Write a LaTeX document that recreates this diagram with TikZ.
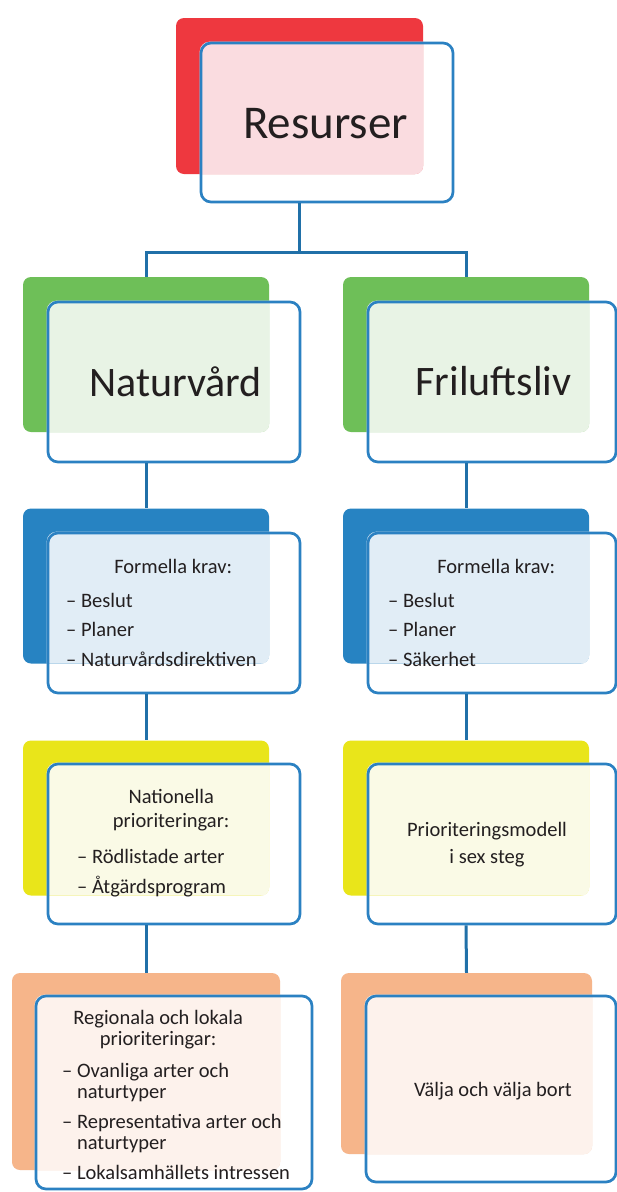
\documentclass[tikz,border=0pt]{standalone}
\usepackage{fontspec}
\setmainfont{Carlito}
\usetikzlibrary{calc}
\pgfdeclarelayer{back}
\pgfdeclarelayer{bg}
\pgfdeclarelayer{mid}
\pgfsetlayers{back,bg,mid,main}
\definecolor{outl}{HTML}{2B81C2}
\definecolor{conncol}{HTML}{2070A8}
\definecolor{txt}{HTML}{231F20}
\definecolor{cred}{HTML}{EE383F}
\definecolor{lred}{HTML}{FADCE0}
\definecolor{cgreen}{HTML}{6EBF58}
\definecolor{lgreen}{HTML}{E8F3E5}
\definecolor{cblue}{HTML}{2783C2}
\definecolor{lblue}{HTML}{E1EDF6}
\definecolor{cyellow}{HTML}{E9E51A}
\definecolor{lyellow}{HTML}{FAFAE6}
\definecolor{corange}{HTML}{F6B58A}
\definecolor{lorange}{HTML}{FDF2EC}
\tikzset{
  cbox/.style={rectangle, rounded corners=8pt, inner sep=0pt, minimum width=246pt, minimum height=155pt},
  obox/.style={rectangle, rounded corners=10pt, draw=outl, line width=2.7pt, inner sep=0pt, minimum width=252pt, minimum height=160pt},
  conn/.style={draw=conncol, line width=3pt},
  big/.style={inner sep=0pt, text=txt, anchor=base, font=\fontsize{42}{48}\selectfont},
  small/.style={inner sep=0pt, text=txt, font=\fontsize{20.5}{21.5}\selectfont},
}
\newcommand\pairbox[5]{%
  \begin{pgfonlayer}{bg}\node[cbox,fill=#2,#4] (#1c) {};\end{pgfonlayer}
  \node[obox,#5] (#1o) {};
  \begin{pgfonlayer}{mid}\begin{scope}
    \clip[rounded corners=8pt] (#1c.south west) rectangle (#1c.north east);
    \fill[#3,rounded corners=10pt] (#1o.south west) rectangle (#1o.north east);
  \end{scope}\end{pgfonlayer}}
\begin{document}
\begin{tikzpicture}[x=1pt,y=-1pt]
\useasboundingbox (0,0) rectangle (617,1192);
\begin{pgfonlayer}{back}\fill[white] (0,0) rectangle (617,1192);\end{pgfonlayer}
% boxes
\pairbox{res}{cred}{lred}{at={(299.5,96)},minimum width=247pt,minimum height=156pt}{at={(327,122.5)},minimum height=159pt}
\pairbox{nat}{cgreen}{lgreen}{at={(146,354.5)}}{at={(174,382)}}
\pairbox{fri}{cgreen}{lgreen}{at={(466,354.5)}}{at={(492,382)},minimum width=248pt}
\pairbox{fkn}{cblue}{lblue}{at={(146,586)}}{at={(174,613)}}
\pairbox{fkf}{cblue}{lblue}{at={(466,586)}}{at={(492,613)},minimum width=248pt}
\pairbox{nap}{cyellow}{lyellow}{at={(146,818)}}{at={(174,844)}}
\pairbox{pri}{cyellow}{lyellow}{at={(466,818)}}{at={(492,844)},minimum width=248pt}
\pairbox{reg}{corange}{lorange}{at={(146,1071.5)},minimum width=268pt,minimum height=197pt}{at={(174,1092.5)},minimum width=276pt,minimum height=193pt}
\pairbox{val}{corange}{lorange}{at={(466.5,1063.5)},minimum width=251pt,minimum height=181pt}{at={(491,1089)},minimum width=250pt,minimum height=186pt}
% texts
\node[big,font=\fontsize{47}{52}\selectfont] (tres) at (325.5,138) {Resurser};
\node[big] (tnat) at (175.5,396) {Naturvård};
\node[big] (tfri) at (493.5,395) {Friluftsliv};
\node[small,anchor=base west] (tfkn) at (66,573) {\fontsize{20.5}{29.5}\selectfont
  \begin{tabular}[t]{@{}l@{}}\makebox[214pt]{Formella krav:}\\[4.5pt]
  – Beslut\\ – Planer\\ – Naturvårdsdirektiven\end{tabular}};
\node[small,anchor=base west] (tfkf) at (388,573) {\fontsize{20.5}{29.5}\selectfont
  \begin{tabular}[t]{@{}l@{}}\makebox[216pt]{Formella krav:}\\[4.5pt]
  – Beslut\\ – Planer\\ – Säkerhet\end{tabular}};
\node[small,anchor=base west] (tnap) at (77,803) {\fontsize{20.5}{24}\selectfont
  \begin{tabular}[t]{@{}l@{}}\makebox[188pt]{Nationella}\\
  \makebox[188pt]{prioriteringar:}\\[12pt]
  – Rödlistade arter\\[6pt] – Åtgärdsprogram\end{tabular}};
\node[small,anchor=base] (tpri) at (487,836) {\fontsize{20.5}{27}\selectfont
  \begin{tabular}[t]{@{}c@{}}Prioriteringsmodell\\ i sex steg\end{tabular}};
\node[small,anchor=base west] (treg) at (62,1024) {\fontsize{20.5}{21}\selectfont
  \begin{tabular}[t]{@{}l@{}}\makebox[192pt]{Regionala och lokala}\\
  \makebox[192pt]{prioriteringar:}\\[11pt]
  – Ovanliga arter och\\ \phantom{– }naturtyper\\[9pt]
  – Representativa arter och\\ \phantom{– }naturtyper\\[9pt]
  – Lokalsamhällets intressen\end{tabular}};
\node[small,anchor=base] (tval) at (493,1096) {Välja och välja bort};
% connectors
\coordinate (split) at (299.5,252);
\draw[conn] (resc.south |- reso.south) -- (split);
\draw[conn] (natc.north) |- (split) -| (fric.north);
\draw[conn] (natc.south |- nato.south) -- (fknc.north);
\draw[conn] (fknc.south |- fkno.south) -- (napc.north);
\draw[conn] (napc.south |- napo.south) -- (regc.north);
\draw[conn] (fric.south |- frio.south) -- (fkfc.north);
\draw[conn] (fkfc.south |- fkfo.south) -- (pric.north);
\draw[conn] (pric.south |- prio.south) -- (valc.north);
\end{tikzpicture}
\end{document}
